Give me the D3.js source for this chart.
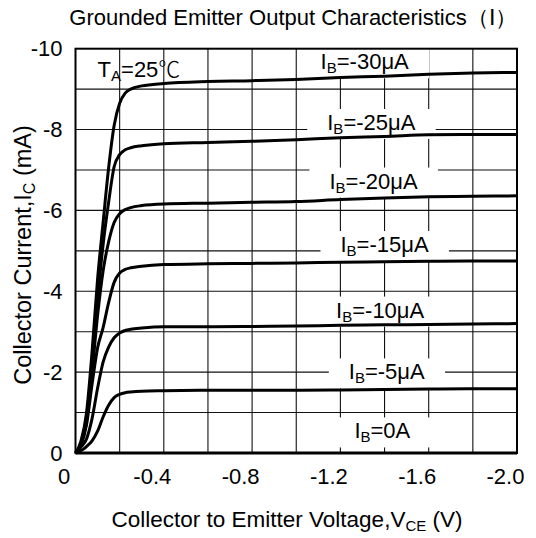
<!DOCTYPE html>
<html><head><meta charset="utf-8">
<script src="https://cdn.jsdelivr.net/npm/d3@7"></script>
<style>
body{margin:0;background:#fff;}
text{font-family:"Liberation Sans",Arial,sans-serif;fill:#000;}
</style></head>
<body><svg id="c" width="536" height="538"></svg>
<script>
// ---- data ----
const vce = [0,-0.025,-0.05,-0.075,-0.1,-0.125,-0.15,-0.175,-0.2,-0.225,-0.25,-0.3,-0.4,-0.6,-0.8,-1.0,-1.2,-1.4,-1.6,-1.8,-2.0];
const ibLabels = ["-30μA","-25μA","-20μA","-15μA","-10μA","-5μA","0A"];
const ic30 = [0,-0.3,-1.0,-2.5,-4.3,-5.7,-7.05,-8.1,-8.65,-8.9,-9.0,-9.08,-9.14,-9.19,-9.21,-9.24,-9.29,-9.32,-9.37,-9.4,-9.41];
const ic25 = [0,-0.25,-0.9,-2.2,-3.8,-5.15,-6.2,-7.08,-7.38,-7.5,-7.55,-7.6,-7.65,-7.68,-7.71,-7.75,-7.8,-7.83,-7.87,-7.88,-7.88];
const ic20 = [0,-0.22,-0.8,-2.0,-3.4,-4.5,-5.22,-5.7,-5.92,-6.02,-6.07,-6.12,-6.16,-6.18,-6.2,-6.22,-6.27,-6.31,-6.34,-6.35,-6.36];
const ic15 = [0,-0.2,-0.7,-1.7,-2.6,-3.1,-3.72,-4.22,-4.45,-4.54,-4.58,-4.62,-4.66,-4.68,-4.69,-4.7,-4.72,-4.73,-4.74,-4.75,-4.75];
const ic10 = [0,-0.15,-0.35,-0.85,-1.6,-2.25,-2.62,-2.85,-2.97,-3.03,-3.06,-3.09,-3.12,-3.12,-3.13,-3.14,-3.16,-3.17,-3.18,-3.19,-3.2];
const ic5  = [0,-0.06,-0.16,-0.3,-0.54,-0.89,-1.18,-1.37,-1.45,-1.49,-1.51,-1.53,-1.54,-1.55,-1.55,-1.55,-1.56,-1.57,-1.58,-1.59,-1.59];
const ic0  = [0,0,0,0,0,0,0,0,0,0,0,0,0,0,0,0,0,0,0,0,0];
// label anchor points (data units)
const labelV  = [-1.31,-1.34,-1.35,-1.40,-1.38,-1.41,-1.39];
const labelI  = [-9.49,-7.99,-6.54,-4.97,-3.35,-1.82,-0.36];
const xTicks = [0,-0.4,-0.8,-1.2,-1.6,-2.0];
const yTicks = [0,-2,-4,-6,-8,-10];

const series = [ic30,ic25,ic20,ic15,ic10,ic5,ic0];

const svg = d3.select("#c");
const m = {l:75.5,t:48.7,r:19,b:85};
const W = 536-m.l-m.r, H = 538-m.t-m.b;
const x = d3.scaleLinear().domain([0,-2]).range([0,W]);
const y = d3.scaleLinear().domain([0,-10]).range([H,0]);
const g = svg.append("g").attr("transform",`translate(${m.l},${m.t})`);

// grid
g.append("g").selectAll("line").data(d3.range(1,10).map(i=>-0.2*i)).join("line")
  .attr("x1",d=>x(d)).attr("x2",d=>x(d)).attr("y1",0).attr("y2",H)
  .attr("stroke","#111").attr("stroke-width",1.1);
g.append("g").selectAll("line").data(d3.range(1,10).map(i=>-i)).join("line")
  .attr("y1",d=>y(d)).attr("y2",d=>y(d)).attr("x1",0).attr("x2",W)
  .attr("stroke","#111").attr("stroke-width",1.1);

// label boxes (under curves) and text (over curves)
const boxG = g.append("g");
const curveG = g.append("g");
const lab = g.append("g");
const texts = ibLabels.map((s,i)=>{
  const t = lab.append("text").attr("x",x(labelV[i])).attr("y",y(labelI[i]))
    .attr("text-anchor","middle").attr("font-size",22);
  t.append("tspan").text("I");
  t.append("tspan").attr("font-size",15).attr("dy",4).text("B");
  t.append("tspan").attr("dy",-4).text("="+s);
  return t;
});
texts.forEach(t=>{
  const b = t.node().getBBox();
  boxG.append("rect").attr("x",b.x-20).attr("y",b.y-1).attr("width",b.width+40).attr("height",b.height+3).attr("fill","#fff");
});

// curves
const line = d3.line().x((d,i)=>x(vce[i])).y(d=>y(d)).curve(d3.curveMonotoneX);
curveG.selectAll("path").data(series).join("path")
  .attr("d",line).attr("fill","none").attr("stroke","#000").attr("stroke-width",3).attr("stroke-linejoin","round");

// border
g.append("rect").attr("width",W).attr("height",H).attr("fill","none").attr("stroke","#000").attr("stroke-width",2);

// TA label
const ta = g.append("text").attr("x",x(-0.1)).attr("y",y(-9.3)).attr("font-size",22);
ta.append("tspan").text("T");
ta.append("tspan").attr("font-size",15).attr("dy",4).text("A");
ta.append("tspan").attr("dy",-4).text("=25");
ta.append("tspan").attr("font-family","'Noto Sans CJK SC'").attr("font-weight",300).text("℃");

// axes
const fmtX = d=> d===0?"0":d3.format(".1f")(d).replace("−","-");
const xa = g.append("g").attr("transform",`translate(0,${H})`)
  .call(d3.axisBottom(x).tickValues(xTicks).tickSize(0).tickPadding(15).tickFormat(fmtX));
xa.select(".domain").remove();
xa.selectAll("text").attr("font-size",22).attr("font-family","'Liberation Sans',Arial,sans-serif").attr("dx",-12).attr("fill","#000");
const ya = g.append("g")
  .call(d3.axisLeft(y).tickValues(yTicks).tickSize(0).tickPadding(13).tickFormat(d=>String(d).replace("−","-")));
ya.select(".domain").remove();
ya.selectAll("text").attr("font-size",22).attr("font-family","'Liberation Sans',Arial,sans-serif").attr("fill","#000");

// titles
svg.append("text").attr("x",293).attr("y",25).attr("text-anchor","middle").attr("font-size",22)
  .text("Grounded Emitter Output Characteristics（Ⅰ）");
const xt = svg.append("text").attr("x",287).attr("y",527).attr("text-anchor","middle").attr("font-size",22.5);
xt.append("tspan").text("Collector to Emitter Voltage,V");
xt.append("tspan").attr("font-size",15).attr("dy",4).text("CE");
xt.append("tspan").attr("dy",-4).text(" (V)");
const yt = svg.append("text").attr("transform","translate(31,255) rotate(-90)").attr("text-anchor","middle").attr("font-size",23.5);
yt.append("tspan").text("Collector Current,I");
yt.append("tspan").attr("font-size",16).attr("dy",4).text("C");
yt.append("tspan").attr("dy",-4).text(" (mA)");
</script></body></html>
